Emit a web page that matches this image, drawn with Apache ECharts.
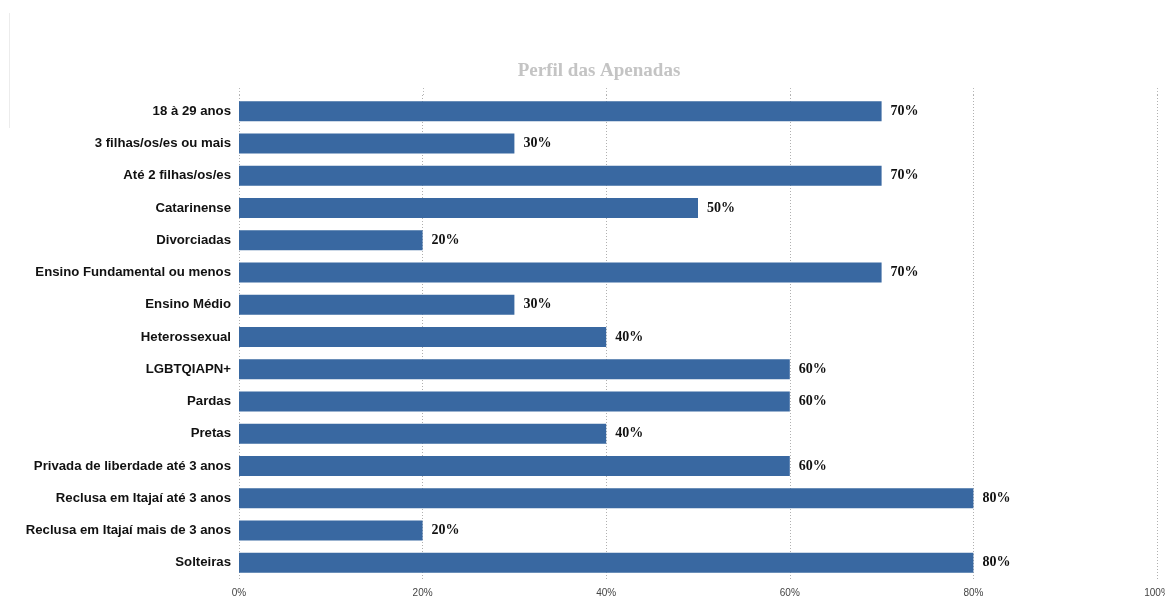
<!DOCTYPE html>
<html>
<head>
<meta charset="utf-8">
<script src="https://cdn.jsdelivr.net/npm/echarts@6/dist/echarts.min.js"></script>
<style>
  html, body { margin: 0; padding: 0; background: #fff; }
  #chart { width: 1165px; height: 597px; }
</style>
</head>
<body>
<div id="chart"></div>
<script>
// Profile categories and their shares (%)
const categories = [
  '18 à 29 anos',
  '3 filhas/os/es ou mais',
  'Até 2 filhas/os/es',
  'Catarinense',
  'Divorciadas',
  'Ensino Fundamental ou menos',
  'Ensino Médio',
  'Heterossexual',
  'LGBTQIAPN+',
  'Pardas',
  'Pretas',
  'Privada de liberdade até 3 anos',
  'Reclusa em Itajaí até 3 anos',
  'Reclusa em Itajaí mais de 3 anos',
  'Solteiras'
];
const shares = [70, 30, 70, 50, 20, 70, 30, 40, 60, 60, 40, 60, 80, 20, 80];
const titleText = 'Perfil das Apenadas';

const chart = echarts.init(document.getElementById('chart'));
chart.setOption({
  animation: false,
  backgroundColor: '#fff',
  title: {
    text: titleText,
    left: 594,
    top: 57,
    textAlign: 'center',
    textStyle: {
      fontFamily: 'Liberation Serif',
      fontWeight: 'bold',
      fontSize: 19,
      color: '#c4c4c4'
    }
  },
  graphic: [{
    type: 'line',
    shape: { x1: 9.5, y1: 13, x2: 9.5, y2: 128 },
    style: { stroke: '#ececec', lineWidth: 1 }
  }, {
    // dotted gridlines continue a little above the first row
    type: 'group',
    children: [0, 1, 2, 3, 4, 5].map(function (i) {
      const x = Math.round(239 + i * 183.6) + 0.5;
      return {
        type: 'line',
        shape: { x1: x, y1: 88, x2: x, y2: 96 },
        style: { stroke: '#b8b8b8', lineWidth: 1, lineDash: [1, 2] }
      };
    })
  }],
  grid: { left: 239, right: 8, top: 95, height: 484, outerBoundsMode: 'none' },
  xAxis: {
    type: 'value',
    min: 0,
    max: 100,
    interval: 20,
    axisLine: { show: false },
    axisTick: { show: false },
    axisLabel: {
      formatter: '{value}%',
      fontFamily: 'Liberation Sans',
      fontSize: 10,
      color: '#444',
      margin: 9
    },
    splitLine: {
      show: true,
      lineStyle: { type: [1, 2], color: '#b0b0b0', width: 1 }
    }
  },
  yAxis: {
    type: 'category',
    data: categories,
    inverse: true,
    axisLine: { show: false },
    axisTick: { show: false },
    axisLabel: {
      fontFamily: 'Liberation Sans',
      fontWeight: 'bold',
      fontSize: 13.2,
      color: '#111',
      margin: 8
    }
  },
  series: [{
    type: 'bar',
    data: shares,
    barWidth: 20,
    itemStyle: { color: '#3968a1' },
    label: {
      show: true,
      position: 'right',
      distance: 9,
      formatter: '{c}%',
      fontFamily: 'Liberation Serif',
      fontWeight: 'bold',
      fontSize: 14,
      color: '#111'
    }
  }]
});
</script>
</body>
</html>
